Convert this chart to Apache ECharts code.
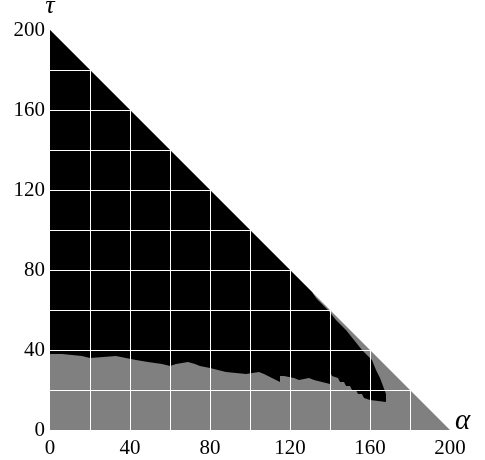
<!DOCTYPE html>
<html>
<head>
<meta charset="utf-8">
<script src="https://cdn.jsdelivr.net/npm/echarts@6/dist/echarts.min.js"></script>
<style>
  html, body { margin: 0; padding: 0; background: #fff; }
  #chart { width: 485px; height: 460px; }
</style>
</head>
<body>
<div id="chart"></div>
<script>
// 三角形区域 α + τ <= 200
const triangleAlpha = [0, 200];
const triangleTau = [200, 0];

// 黑色区域上边界（靠近斜边的一段）
const upperAlpha = [0, 131, 133, 136, 139, 143, 148, 152, 156, 161, 163, 165, 166.5, 168, 168];
const upperTau = [200, 69, 66, 63, 60, 55, 50, 45, 40, 35, 30, 26, 22, 18, 14];

// 灰色区域上边界（阶梯）
const lowerAlpha = [0, 6, 16, 20, 33, 38, 43, 49, 56, 60, 63, 69, 72.5, 75, 80, 84, 88, 98, 104.5, 107, 109, 111, 113, 115, 117, 122, 124.5, 129.5, 132, 136, 140, 141, 142, 144, 145, 147, 148, 150, 151, 153, 154, 156, 157, 158, 160, 168];
const lowerTau = [38, 37, 36, 37, 36, 35, 34, 33, 32, 33, 34, 33, 32, 31, 30, 29, 28, 29, 28, 27, 26, 25, 24, 27, 26, 25, 26, 25, 24, 23, 29, 27, 26, 25, 24, 23, 22, 21, 20, 19, 18, 17, 16, 15, 14, 14];

// 刻度
const axisMax = 200;
const gridStep = 20;
const labelStep = 40;

const pairs = (xs, ys) => xs.map((x, i) => [x, ys[i]]);

const chart = echarts.init(document.getElementById("chart"));

const fontFamily = "Liberation Serif";

const axisCommon = {
  type: "value",
  min: 0,
  max: axisMax,
  interval: gridStep,
  z: 10,
  axisLine: { show: false },
  axisTick: { show: false },
  splitLine: {
    show: true,
    showMinLine: false,
    showMaxLine: false,
    lineStyle: { color: "#ffffff", width: 1 },
  },
};

const areaSeries = (data, color, step) => ({
  type: "line",
  data: data,
  step: step,
  symbol: "none",
  silent: true,
  lineStyle: { width: 0, color: color },
  areaStyle: { color: color, opacity: 1 },
});

const options = {
  animation: false,
  grid: {
    left: 50,
    right: 35,
    top: 30,
    bottom: 30,
    containLabel: false,
    outerBoundsMode: "none",
  },
  xAxis: {
    ...axisCommon,
    name: "α",
    nameLocation: "end",
    nameGap: 5,
    nameTextStyle: {
      fontFamily: fontFamily,
      fontStyle: "italic",
      fontSize: 29,
      lineHeight: 18,
      color: "#000",
      verticalAlign: "bottom",
    },
    axisLabel: {
      margin: 8,
      color: "#000",
      fontFamily: fontFamily,
      fontSize: 21,
      formatter: (v) => (v % labelStep === 0 ? String(v) : ""),
    },
  },
  yAxis: {
    ...axisCommon,
    name: "τ",
    nameLocation: "end",
    nameGap: 11,
    nameTextStyle: {
      fontFamily: fontFamily,
      fontStyle: "italic",
      fontSize: 26,
      color: "#000",
    },
    axisLabel: {
      margin: 5,
      color: "#000",
      fontFamily: fontFamily,
      fontSize: 21,
      formatter: (v) => (v % labelStep === 0 ? String(v) : ""),
    },
  },
  series: [
    // 灰色三角形底色
    areaSeries(pairs(triangleAlpha, triangleTau), "#808080", false),
    // 黑色区域
    areaSeries(pairs(upperAlpha, upperTau), "#000000", false),
    // 下方灰色
    areaSeries(pairs(lowerAlpha, lowerTau), "#808080", "end"),
  ],
};

chart.setOption(options);

window.addEventListener("resize", () => {
  chart.resize();
});
</script>
</body>
</html>
